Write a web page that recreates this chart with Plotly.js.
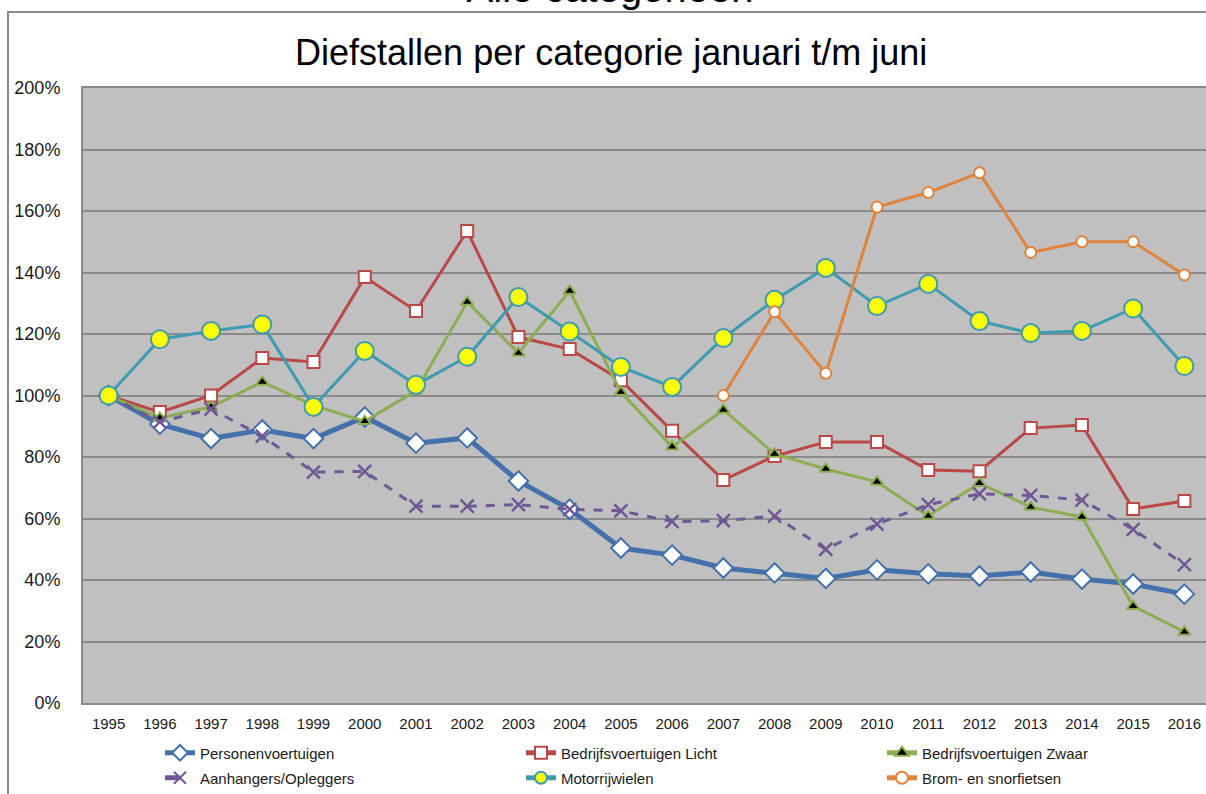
<!DOCTYPE html>
<html>
<head>
<meta charset="utf-8">
<script src="https://cdn.plot.ly/plotly-3.0.1.min.js"></script>
<style>
  body { margin: 0; background: #fff; overflow: hidden; width: 1206px; height: 794px; position: relative; }
  #frame { position: absolute; left: 7px; top: 11px; width: 1400px; height: 900px;
           border-left: 2px solid #8a8a8a; border-top: 2px solid #8a8a8a; }
  #bigtitle { position: absolute; left: 0; top: -32px; width: 1220px; text-align: center;
              font-family: "Liberation Sans", Arial, sans-serif; font-size: 40px; line-height: 40px; color: #000; }
  #myDiv { position: absolute; left: 0; top: 0; }
</style>
</head>
<body>
<div id="frame"></div>
<div id="bigtitle">Alle categorieën</div>
<div id="myDiv"></div>
<script>
var years = ['1995','1996','1997','1998','1999','2000','2001','2002','2003','2004','2005',
             '2006','2007','2008','2009','2010','2011','2012','2013','2014','2015','2016'];

var personen = [100, 90.7, 86, 88.8, 86, 93, 84.5, 86.2, 72.2, 63, 50.4,
                48.1, 43.9, 42.3, 40.5, 43.3, 42, 41.3, 42.6, 40.3, 38.7, 35.4];
var licht = [100, 94.6, 100, 112.2, 110.9, 138.5, 127.5, 153.5, 119, 115.1, 105,
             88.5, 72.5, 80.3, 84.9, 84.9, 75.8, 75.4, 89.4, 90.4, 63.1, 65.7];
var zwaar = [100, 92.7, 96.3, 104.4, 96.8, 91.6, 101.5, 130.4, 113.8, 134, 101.1,
             83.3, 95.3, 81, 76.1, 71.9, 60.8, 71.5, 63.7, 60.5, 31.5, 23.1];
var aanhangers = [100, 91.4, 95.6, 86.8, 75.1, 75.3, 64, 64, 64.5, 63, 62.5,
                  59, 59.3, 60.8, 50, 58.2, 64.5, 68, 67.5, 66, 56.5, 45];
var motor = [100, 118.3, 121, 123.1, 96.3, 114.5, 103.5, 112.6, 132, 120.8, 109.3,
             102.8, 118.7, 131.1, 141.5, 129.1, 136.3, 124.2, 120.3, 121, 128.3, 109.6];
var bromYears = ['2007','2008','2009','2010','2011','2012','2013','2014','2015','2016'];
var brom = [100, 127.2, 107.2, 161.3, 166, 172.4, 146.5, 150, 150, 139.2];

var yTicks = [0, 20, 40, 60, 80, 100, 120, 140, 160, 180, 200];
var yTickText = ['0%', '20%', '40%', '60%', '80%', '100%', '120%', '140%', '160%', '180%', '200%'];

var FONT = 'Liberation Sans, Arial, sans-serif';

var trace1 = {
    x: years, y: personen, name: 'Personenvoertuigen', mode: 'lines+markers',
    line: {color: '#4371AC', width: 5},
    marker: {symbol: 'diamond', size: 15, color: '#ffffff', line: {color: '#4371AC', width: 2}},
    legend: 'legend'
};
var trace2 = {
    x: years, y: licht, name: 'Bedrijfsvoertuigen Licht', mode: 'lines+markers',
    line: {color: '#BA4845', width: 3},
    marker: {symbol: 'square', size: 12, color: '#ffffff', line: {color: '#BA4845', width: 2}},
    legend: 'legend'
};
var trace3 = {
    x: years, y: zwaar, name: 'Bedrijfsvoertuigen Zwaar', mode: 'lines+markers',
    line: {color: '#8BAF50', width: 3},
    marker: {symbol: 'triangle-up', size: 11, color: '#000000', line: {color: '#8BAF50', width: 2}},
    legend: 'legend'
};
var trace4 = {
    x: years, y: aanhangers, name: 'Aanhangers/Opleggers', mode: 'lines+markers',
    line: {color: '#705796', width: 3, dash: 'dash'},
    marker: {symbol: 'x-thin', size: 13, color: '#705796', line: {color: '#705796', width: 2.5}},
    legend: 'legend2'
};
var trace5 = {
    x: years, y: motor, name: 'Motorrijwielen', mode: 'lines+markers',
    line: {color: '#3D9BB2', width: 3},
    marker: {symbol: 'circle', size: 18, color: '#FFFF00', line: {color: '#3D9BB2', width: 2}},
    legend: 'legend2'
};
var trace6 = {
    x: bromYears, y: brom, name: 'Brom- en snorfietsen', mode: 'lines+markers',
    line: {color: '#E2833B', width: 3},
    marker: {symbol: 'circle', size: 11, color: '#ffffff', line: {color: '#E2833B', width: 2}},
    legend: 'legend2'
};

var data = [trace1, trace2, trace3, trace4, trace5, trace6];

var legendCommon = {
    orientation: 'h',
    xref: 'paper', x: 0.0683, xanchor: 'left',
    yref: 'paper', yanchor: 'middle',
    entrywidth: 316, entrywidthmode: 'pixels',
    itemsizing: 'constant',
    bgcolor: 'rgba(0,0,0,0)',
    font: {family: FONT, size: 15, color: '#1a1a1a'}
};

var layout = {
    width: 1500,
    height: 794,
    margin: {l: 83, r: 290.4, t: 88, b: 91, autoexpand: false},
    paper_bgcolor: 'rgba(0,0,0,0)',
    plot_bgcolor: '#C0C0C0',
    showlegend: true,
    title: {
        text: 'Diefstallen per categorie januari t/m juni',
        font: {family: FONT, size: 36, color: '#000'},
        xref: 'paper', x: 0.4687, xanchor: 'center',
        yref: 'container', y: 1 - 52 / 794, yanchor: 'middle'
    },
    xaxis: {
        type: 'category',
        range: [-0.5, 21.5],
        automargin: false,
        showgrid: false,
        showline: true, linecolor: '#8a8a8a', linewidth: 2, mirror: true,
        ticks: '',
        tickfont: {family: FONT, size: 15, color: '#1a1a1a'},
        ticklabelstandoff: 6
    },
    yaxis: {
        range: [0, 200],
        automargin: false,
        tickvals: yTicks,
        ticktext: yTickText,
        showgrid: true, gridcolor: '#8a8a8a', gridwidth: 2,
        zeroline: false,
        showline: true, linecolor: '#8a8a8a', linewidth: 2, mirror: true,
        ticks: '',
        tickfont: {family: FONT, size: 18, color: '#1a1a1a'},
        ticklabelstandoff: 17
    },
    legend: Object.assign({}, legendCommon, {y: -0.0813}),
    legend2: Object.assign({}, legendCommon, {y: -0.1220})
};

Plotly.newPlot('myDiv', data, layout, {displayModeBar: false, staticPlot: true});
</script>
</body>
</html>
